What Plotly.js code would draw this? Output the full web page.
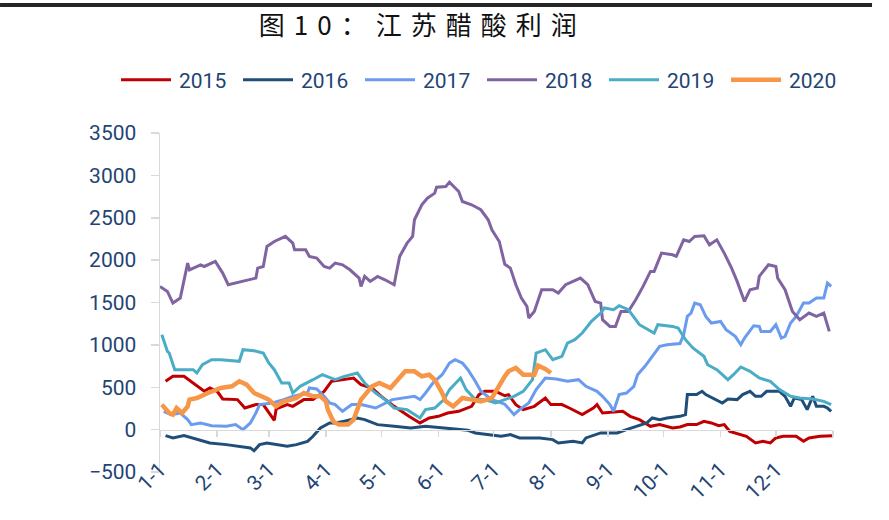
<!DOCTYPE html>
<html>
<head>
<meta charset="utf-8">
<script src="https://cdn.plot.ly/plotly-3.0.1.min.js"></script>
<style>
  html, body { margin: 0; padding: 0; background: #fff; }
  .gtitle { letter-spacing: 9px; }
  /* longer legend line samples, like the original */
  .legendlines path { d: path("M5,0h50"); }
</style>
</head>
<body>
<div id="chart" style="width:889px;height:520px;"></div>
<script>
let graph = document.getElementById('chart');

// month start ticks (day of year)
let monthDays = [0, 31, 59, 90, 120, 151, 181, 212, 243, 273, 304, 334, 365];
let monthLabels = ['1-1', '2-1', '3-1', '4-1', '5-1', '6-1', '7-1', '8-1', '9-1', '10-1', '11-1', '12-1', ''];

let years = ['2015', '2016', '2017', '2018', '2019', '2020'];
let colors = ['#C00000', '#1F4E79', '#6A9BEF', '#8064A2', '#4BACC6', '#F79646'];
let widths = [3, 3, 3, 3, 3, 4.5];

// readings: day of year / profit
let d2015 = [3,7,13,18,24,27,31,34,42,46,52,56,59,62,63,69,72,78,83,89,93,99,105,109,115,120,127,135,141,146,151,156,162,169,173,176,182,187,189,193,197,203,209,212,218,222,229,235,237,240,244,251,255,260,266,271,278,282,286,291,295,299,303,306,309,315,318,323,327,331,334,338,345,349,352,358,365];
let v2015 = [570,629,629,550,452,491,452,362,354,255,295,295,196,110,244,295,275,354,354,450,570,589,609,531,491,393,275,157,79,138,157,196,216,275,413,452,452,400,413,295,236,275,373,295,295,255,177,255,295,196,204,216,157,118,39,59,20,31,59,59,98,79,47,59,-20,-59,-79,-157,-138,-157,-98,-79,-79,-138,-98,-79,-71];

let d2016 = [3,7,13,20,27,36,43,49,51,54,58,63,69,74,80,83,87,92,95,100,107,111,118,127,136,144,153,162,167,171,180,185,190,195,206,213,216,224,229,231,239,248,253,258,264,267,271,275,282,285,286,291,294,296,300,305,308,313,316,320,323,326,329,336,339,342,344,348,351,354,356,360,362,364];
let v2016 = [-71,-98,-71,-110,-157,-177,-196,-216,-250,-177,-157,-177,-196,-177,-138,-79,20,79,79,98,138,118,59,39,20,39,20,0,-8,-39,-59,-79,-59,-98,-98,-118,-157,-138,-157,-98,-39,-39,0,39,79,138,118,138,157,177,413,413,452,413,373,314,362,354,413,452,393,393,452,452,393,275,373,354,236,393,275,275,255,216];

let d2017 = [2,6,11,15,17,22,28,36,41,45,49,52,54,61,67,72,80,81,85,89,92,95,99,104,109,117,126,133,138,141,144,148,153,157,160,164,167,171,174,180,185,187,192,195,200,204,209,215,221,227,231,237,240,244,246,249,253,257,259,263,267,271,275,282,284,286,288,290,293,296,299,304,307,312,315,317,322,325,326,331,334,337,339,342,345,349,352,356,360,362,364];
let v2017 = [216,177,196,118,59,79,47,39,59,0,79,196,295,314,354,393,432,491,479,393,314,295,216,295,295,255,354,373,393,354,432,550,648,786,825,786,707,570,452,354,314,300,177,236,314,472,609,597,570,589,511,452,393,295,216,413,432,511,648,747,865,983,1002,1015,1120,1336,1375,1493,1474,1336,1258,1277,1179,1100,1002,1081,1226,1218,1159,1159,1238,1081,1100,1258,1336,1493,1493,1552,1552,1729,1690];

let d2018 = [0,4,7,11,15,16,22,24,30,34,37,52,53,56,58,62,68,72,73,79,81,85,89,92,95,99,103,108,109,111,114,118,122,127,128,130,134,137,138,142,145,149,150,155,157,162,164,169,174,178,180,184,187,190,193,196,199,200,203,207,213,216,220,224,228,232,236,239,240,244,247,250,254,258,262,266,268,272,278,280,284,287,290,295,298,302,306,310,313,317,320,324,325,330,334,335,339,343,347,352,356,360,363];
let v2018 = [1690,1631,1493,1552,1965,1886,1945,1925,1985,1847,1710,1788,1906,1925,2161,2220,2280,2200,2122,2122,2044,2024,1925,1906,1965,1945,1886,1788,1690,1808,1749,1808,1768,1710,1827,2044,2200,2280,2476,2653,2731,2790,2861,2869,2920,2810,2692,2653,2594,2476,2358,2220,1950,1906,1710,1552,1454,1317,1395,1651,1651,1611,1710,1749,1788,1710,1513,1493,1297,1218,1218,1395,1395,1533,1690,1867,1867,2083,2063,2044,2240,2220,2280,2287,2181,2240,2083,1906,1749,1513,1651,1670,1808,1945,1925,1788,1651,1395,1297,1375,1336,1375,1159];

let d2019 = [1,4,5,8,18,20,23,28,33,43,45,51,56,59,62,66,70,72,76,80,83,88,92,95,100,107,111,117,122,127,134,141,144,149,154,157,163,166,171,176,182,187,192,197,202,204,209,213,218,221,225,229,234,239,241,246,249,254,260,268,270,278,281,285,289,295,297,302,308,311,315,320,325,331,336,342,347,354,360,364];
let v2019 = [1120,924,904,707,707,668,766,825,825,806,943,931,904,786,707,550,550,432,511,550,589,648,609,589,629,668,550,432,354,255,236,138,236,255,354,472,609,472,354,354,314,350,393,452,589,904,943,825,865,1022,1061,1140,1277,1375,1435,1415,1462,1415,1238,1140,1238,1218,1199,1061,963,865,766,707,589,648,739,688,609,570,472,393,373,362,334,295];

let d2020 = [1,5,7,9,12,15,16,20,26,33,39,43,47,51,55,59,63,67,71,74,78,83,87,90,91,94,97,102,105,107,109,115,119,125,128,133,138,142,146,149,153,155,159,164,169,174,180,183,187,189,193,197,203,205,209,212];
let v2020 = [295,196,177,255,196,275,354,373,432,491,511,570,531,432,393,354,275,334,354,373,432,393,393,334,236,98,59,59,118,255,354,511,550,491,570,688,688,629,648,589,432,334,275,373,354,334,373,491,629,688,727,648,648,755,715,668];

let days = [d2015, d2016, d2017, d2018, d2019, d2020];
let values = [v2015, v2016, v2017, v2018, v2019, v2020];

let textFont = {family: 'Roboto, "Liberation Sans", sans-serif', size: 21, color: '#1F4574'};

let data = years.map(function(year, i) {
    return {
        type: 'scatter',
        mode: 'lines',
        name: year,
        x: days[i],
        y: values[i],
        line: {color: colors[i], width: widths[i]},
        legend: i < 3 ? 'legend' : 'legend2',
        hoverinfo: 'skip'
    };
});

function legendAt(x) {
    return {
        orientation: 'h',
        xref: 'container', x: x, xanchor: 'left',
        yref: 'container', y: 0.846, yanchor: 'middle',
        itemwidth: 53,
        entrywidth: 54, entrywidthmode: 'pixels',
        font: textFont,
        traceorder: 'normal'
    };
}

let layout = {
    width: 889,
    height: 520,
    margin: {l: 160, r: 56, t: 133, b: 48},
    paper_bgcolor: '#ffffff',
    plot_bgcolor: '#ffffff',
    title: {
        text: '图10：江苏醋酸利润',
        font: {family: '"Noto Sans CJK SC", sans-serif', size: 26, color: '#111111'},
        xref: 'container', x: 0.475, xanchor: 'center',
        yref: 'container', y: 0.95, yanchor: 'middle'
    },
    showlegend: true,
    legend: legendAt(0.1305),
    legend2: legendAt(0.5422),
    xaxis: {
        range: [0, 365],
        tickmode: 'array',
        tickvals: monthDays,
        ticktext: monthLabels,
        tickangle: -45,
        ticks: 'outside', ticklen: 6, tickcolor: '#D9D9D9', tickwidth: 1.5,
        showline: true, linecolor: '#D9D9D9', linewidth: 1.5,
        showgrid: false, zeroline: false,
        anchor: 'free', position: 0.125,
        ticklabelstandoff: 12,
        tickfont: textFont
    },
    yaxis: {
        range: [-500, 3500],
        tick0: 0, dtick: 500,
        ticks: 'outside', ticklen: 8, tickcolor: '#D9D9D9', tickwidth: 1.5,
        showline: true, linecolor: '#D9D9D9', linewidth: 1.5,
        showgrid: false, zeroline: false,
        ticklabelstandoff: 10,
        tickfont: textFont
    },
    shapes: [{
        type: 'line', xref: 'paper', yref: 'paper',
        x0: -0.2377, x1: 1.058, y0: 1.3776, y1: 1.3776,
        line: {color: '#262626', width: 4}
    }]
};

Plotly.newPlot(graph, data, layout, {staticPlot: true, displayModeBar: false});
</script>
</body>
</html>
